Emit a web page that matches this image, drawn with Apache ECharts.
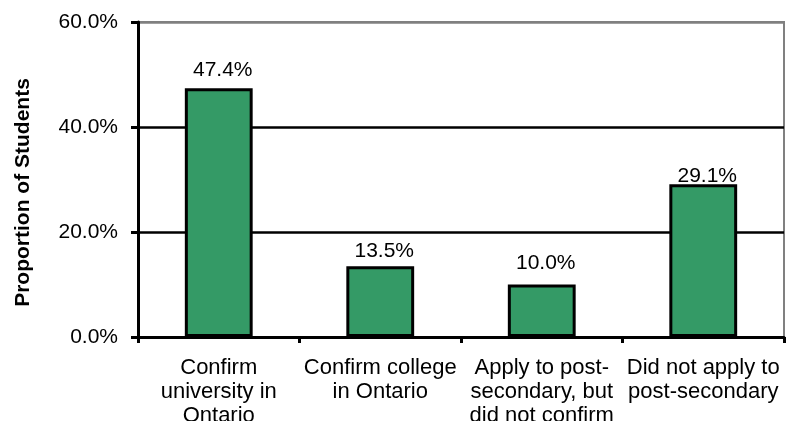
<!DOCTYPE html>
<html><head><meta charset="utf-8">
<script src="https://cdn.jsdelivr.net/npm/echarts@6/dist/echarts.min.js"></script>
<style>html,body{margin:0;padding:0;background:#fff}#c{width:792px;height:421px}</style>
</head><body><div id="c"></div>
<script>
const categories = ["Confirm\nuniversity in\nOntario", "Confirm college\nin Ontario", "Apply to post-\nsecondary, but\ndid not confirm", "Did not apply to\npost-secondary"];
const values = [47.4, 13.5, 10.0, 29.1];
const yTicks = [0, 20, 40, 60];
const yAxisName = "Proportion of Students";

const labelDistances = [7, 4, 11, -2];
const font = "Liberation Sans, Arial, sans-serif";
const chart = echarts.init(document.getElementById('c'));
chart.setOption({
  animation: false,
  grid: {left: 138, right: 8, top: 22, bottom: 84, outerBoundsMode: 'none', containLabel: false, show: true, borderColor: '#808080', borderWidth: 2},
  xAxis: {
    type: 'category', data: categories,
    axisLine: {lineStyle: {color: '#000', width: 3}},
    axisTick: {show: true, length: 6, lineStyle: {color: '#000', width: 3}},
    axisLabel: {color: '#000', fontFamily: font, fontSize: 22, lineHeight: 24, margin: 19, interval: 0}
  },
  yAxis: {
    type: 'value', min: yTicks[0], max: yTicks[yTicks.length-1], interval: 20,
    name: yAxisName, nameLocation: 'middle', nameGap: 104,
    nameTextStyle: {color: '#000', fontFamily: font, fontSize: 21, fontWeight: 'bold', padding: [0, 26, 0, 0]},
    axisLine: {show: true, lineStyle: {color: '#000', width: 3}},
    axisTick: {show: true, length: 7, lineStyle: {color: '#000', width: 3}},
    axisLabel: {color: '#000', fontFamily: font, fontSize: 21, margin: 20, formatter: v => v.toFixed(1) + '%'},
    splitLine: {show: true, lineStyle: {color: ['#000', '#000', '#000', '#808080'], width: 2.5}}
  },
  series: [{
    type: 'bar', barWidth: '42%',
    data: values.map((v, i) => ({value: v, label: {distance: labelDistances[i]}})),
    itemStyle: {color: '#349a66', borderColor: '#000', borderWidth: 3},
    label: {show: true, position: 'top', offset: [4, 0], color: '#000', fontFamily: font, fontSize: 21, formatter: p => p.value.toFixed(1) + '%'}
  }]
});
</script></body></html>
